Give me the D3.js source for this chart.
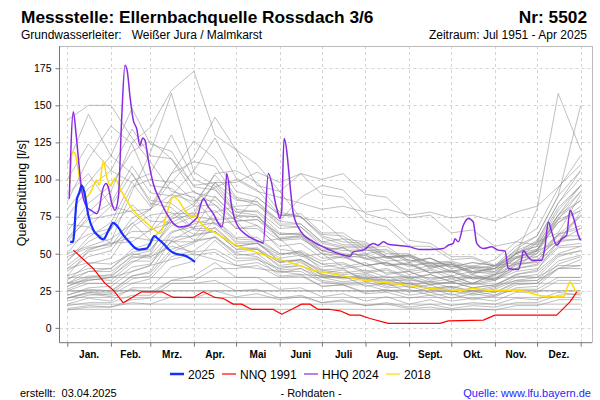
<!DOCTYPE html>
<html><head><meta charset="utf-8">
<script src="https://cdn.jsdelivr.net/npm/d3@7"></script>
<style>
html,body{margin:0;padding:0;background:#fff;}
text{font-family:"Liberation Sans",Arial,sans-serif;}
</style></head>
<body><svg id="c" width="600" height="400"></svg>
<script>
// ---------- data ----------
const monthStarts = [0,31,59,90,120,151,181,212,243,273,304,334,365];
const monthLabels = ["Jan.","Feb.","Mrz.","Apr.","Mai","Juni","Juli","Aug.","Sept.","Okt.","Nov.","Dez."];
const yTicks = [0,25,50,75,100,125,150,175];

const greyDays = [0,15,31,46,59,74,90,105,120,135,151,166,181,196,212,227,243,258,273,288,304,319,334,349,365];
const greySeries = [
 [140,150,150,128,112,92,88,70,72,58,60,48,50,41,44,36,38,32,35,30,36,40,52,58,78],
 [35,52,58,92,118,158,105,96,78,76,60,62,50,49,42,44,36,39,33,36,32,38,40,54,55],
 [25,25,25,25,25,25,25,25,25,25,25,25,25,25,25,25,25,25,25,25,25,25,25,25,25],
 [25,25,25,25,25,25,25,25,25,25,25,25,25,25,25,25,25,25,25,25,25,25,25,25,25],
 [16,16,16,16,16,16,16,16,16,16,16,16,16,16,16,16,16,16,16,16,16,16,16,16,16],
 [30,30,30,30,30,30,30,30,30,30,30,30,30,30,30,30,30,30,30,30,30,30,30,30,30],
 [34,34,34,34,34,34,34,34,34,34,34,34,34,34,34,34,34,34,34,34,34,34,34,34,34],
 [20.5,20.5,20.5,20.5,20.5,20.5,20.5,20.5,20.5,20.5,20.5,20.5,20.5,20.5,20.5,20.5,20.5,20.5,20.5,20.5,20.5,20.5,20.5,20.5,20.5],
 [12.5,12.5,12.5,12.5,12.5,12.5,12.5,12.5,12.5,12.5,12.5,12.5,12.5,12.5,12.5,12.5,12.5,12.5,12.5,12.5,12.5,12.5,12.5,12.5,12.5],
 [60,78,92,125,135,160,173,130,120,96,92,74,72,60,58,48,49,40,43,36,42,44,58,64,90],
 [45,58,66,95,100,98,115,142,120,110,92,104,100,104,90,88,74,76,64,66,55,58,56,76,86],
 [28,33,32,44,50,74,76,98,80,78,64,63,52,49,47,42,43,37,38,33,35,43,45,62,62],
 [20,24,22,30,33,48,52,62,50,48,38,38,31,29,29,25,26,22,23,19,22,26,26,34,34],
 [15,17,17,22,22,32,35,44,34,34,26,27,21,23,18,21,16,19,15,17,16,20,19,24,22],
 [50,68,82,104,86,84,72,70,60,59,50,50,43,44,38,40,34,36,31,35,33,45,52,74,86],
 [100,124,106,98,82,104,126,114,92,88,76,75,62,58,57,50,50,43,44,37,40,43,44,58,60],
 [75,94,106,134,116,114,96,98,86,85,72,70,58,60,50,52,44,47,41,44,42,51,55,79,96],
 [22,27,28,38,42,64,70,74,58,58,45,45,35,33,34,29,30,26,27,23,26,32,34,48,52],
 [32,43,47,68,76,78,66,65,53,53,42,44,36,34,35,30,31,27,28,25,28,32,32,40,40],
 [12,14,14,19,20,30,30,32,25,26,20,22,17,18,15,16,13,14,12,13,12,15,15,19,19],
 [42,53,57,58,66,88,92,83,67,67,55,57,47,48,42,44,38,40,35,38,36,47,53,76,92],
 [85,114,136,124,96,94,82,83,72,73,63,64,55,52,53,47,49,44,45,41,46,58,67,94,116],
 [55,63,67,83,72,71,59,61,51,53,44,46,39,37,39,34,35,31,33,29,32,40,42,55,57],
 [18,22,23,33,35,51,57,68,55,53,41,42,34,35,28,30,24,27,22,25,22,29,30,43,48],
 [38,48,52,71,59,59,49,51,42,44,37,40,34,31,33,28,30,26,28,24,27,34,36,49,52],
 [65,84,96,119,126,114,91,88,75,75,63,63,53,54,47,48,42,44,38,41,40,53,62,89,106],
 [25,30,30,41,43,58,62,78,82,83,69,68,55,50,49,43,43,37,38,33,33,40,43,58,67],
 [110,144,116,104,84,81,67,67,55,57,47,49,41,43,37,39,33,36,31,34,32,43,50,73,92],
 [30,38,40,53,57,75,84,103,87,83,72,88,96,93,77,73,59,57,48,48,42,48,50,63,67],
 [48,54,56,65,65,77,77,79,67,69,59,60,52,49,50,45,46,41,43,38,40,47,48,59,60],
 [20,23,21,26,24,32,32,40,40,42,34,35,28,29,24,26,22,24,20,23,21,27,28,40,46],
 [70,68,57,61,59,73,82,104,106,98,78,75,61,56,56,48,48,41,42,37,38,50,59,84,101],
 [35,40,40,51,53,69,75,73,61,61,50,51,43,40,42,37,38,33,35,30,33,42,45,63,75],
 [16,20,18,27,27,41,45,59,47,47,35,36,28,29,23,24,20,22,18,20,18,24,24,32,32],
 [58,75,84,109,91,89,106,128,101,93,76,75,63,62,52,53,45,47,41,44,42,55,62,89,150],
 [26,32,34,47,49,65,68,71,57,57,45,46,37,39,33,35,29,31,27,30,28,36,39,58,76],
 [40,44,43,50,48,55,51,53,45,46,40,42,36,34,36,31,33,29,31,27,29,35,34,42,42],
 [90,104,82,78,66,71,63,65,55,57,49,52,45,48,42,44,39,42,37,40,37,47,52,71,82],
 [22,26,25,35,37,53,58,61,49,50,39,40,32,30,31,27,28,24,25,22,24,30,30,40,42],
 [45,61,71,99,104,130,100,94,76,75,61,62,52,54,46,48,41,44,38,41,38,48,52,76,96],
 [13,15,14,17,16,21,20,25,21,23,19,21,17,19,15,17,14,16,13,15,14,17,17,22,23],
 [80,98,116,148,124,119,95,93,78,79,67,68,57,54,54,47,48,42,43,38,40,50,55,73,79],
 [33,38,38,48,47,61,62,65,53,54,44,46,38,36,37,32,34,29,31,27,29,36,38,50,55],
 [60,73,76,79,80,99,86,86,72,73,60,61,50,47,49,42,44,37,39,34,36,44,48,63,69],
 [28,34,36,49,52,71,78,98,98,105,98,104,90,88,72,68,55,55,46,47,41,50,53,71,79],
 [20,24,24,35,38,59,67,89,74,69,53,51,39,40,31,33,27,29,24,27,24,31,32,45,49],
 [40,51,55,74,80,104,112,109,88,85,70,70,58,55,55,48,49,43,44,40,42,52,58,84,106],
 [30,35,35,45,45,58,58,73,74,88,76,77,64,64,54,55,45,47,40,42,40,50,57,81,96],
 [50,55,60,70,80,90,85,95,100,92,88,84,80,82,78,80,76,78,74,76,72,78,82,95,110],
 [30,32,34,38,42,46,50,46,42,40,38,36,35,34,33,32,32,31,30,30,36,50,80,158,120]
];

// 2025
const days2025 = [2,4,6.7,8.5,10.2,12,14.9,18.5,22,25.6,29,32.7,36,39.8,44,48,50.5,53,56.4,59,61.8,65,68.2,72,75.4,79,82.5,87,90.8];
const vals2025 = [58,58,86,91,96,92,76,66,62,59.6,65,70.8,68,62.5,58,54,52.8,53,53.5,57,61.8,59.5,56.9,53,50.6,49.5,49,47,44.5];

// NNQ 1991
const daysNNQ = [4.3,18.5,26.8,32.7,39.8,52.9,67.1,75.4,89.6,96.7,105,110.9,118,124,131.1,146.5,152.4,160.7,166.6,172.5,178.4,186.8,193.9,201,208.1,215.2,228.2,265,270.9,295.8,304.1,329,347.9,352.6,357.4,362.2];
const valsNNQ = [52.4,40,30,25.4,16.9,24.3,24.3,20.5,20.5,24.3,20.5,19.8,16,16,12.4,12.4,9.2,13,16,16,12.4,12.4,11.5,8.6,8.6,6.3,3,3,4.7,5.2,8.6,8.6,8.6,13,17.5,24.3];

// HHQ 2024
const daysHHQ = [1.4,4.3,6.2,7.8,10.2,13.8,17.3,20.9,23.2,24.5,27.5,29.1,31.6,33.9,36.3,38.7,41,42.7,44.6,46.9,49.3,51.7,53.6,55.2,57.6,61.1,65.9,70.7,75.4,80.1,86,90.8,92,96.7,100.2,103.8,107.4,109.8,112.1,113.3,116.9,120.4,127.5,137,139.3,142.9,148.9,151.2,152.4,154.1,160.7,165.4,174.9,184.4,186.8,193.9,201,203.3,210.4,217.5,221.1,224.7,228.2,234.2,243.6,250.7,257.8,267.3,270.9,274.4,275.6,278,281.5,285.1,288.6,291.1,295.8,301.7,306.4,311.2,313.5,320.6,323.1,324.2,327.7,330.2,337.3,339.6,342,344.4,347.9,351.5,355,357.4,359.7,363.3,365];
const valsHHQ = [87,145.6,131,115,93,81.5,79,77,82.7,90.6,97.3,95,84,79.3,88,142,177,172.6,155.7,140,134.4,123,128,126.5,113,97.3,86,77,70.4,68,69,73,74,87,81.6,77,70.4,68,84,104,81.6,70,62.5,58,57,104,80.5,73.7,79,127.7,77,65.9,58,53.5,52.4,49.7,48.3,51.2,52.4,56.9,55.7,58,56.4,55.7,54.6,52.8,52.8,53.5,55.7,56.9,60,58,69,73.7,71.4,56.9,53.5,54.6,52.4,51.9,40,39.4,46.8,51.9,47.8,45.6,45.6,54.6,71.4,64.7,55.7,60,62.5,79.3,74.8,62.5,59];

// 2018
const days2018 = [1.9,3.8,5.5,7.8,10.2,13.8,17.3,20.9,22.7,25.6,28,30.4,33.9,37.5,42.2,46.9,54,61.1,65.9,70.7,75.4,77.8,83.7,88.4,92,94.3,106.2,120.4,137,160.7,174.9,186.8,193.9,210.4,229.4,257.8,281.5,288.6,298.2,320.6,338.4,352.6,357.4,362.2,364.5];
const vals2018 = [97.3,118.6,117.6,106.3,92.8,88.3,92.8,99.6,96.2,112.4,101.8,96.2,100.7,94,86,79.3,72.6,67,63.6,77,88.3,87.2,79.3,74.8,76,71.4,63.6,55.7,50.1,43.4,38.9,36.7,35.5,32.2,30.3,26.6,25.4,26.6,25.4,25.4,21.4,20.9,31,24.3,24.3];

const legendItems = ["2025","NNQ 1991","HHQ 2024","2018"];
const legendColors = ["#1530ff","#ff0000","#8a2be2","#ffdd00"];

// ---------- chart ----------
const svg = d3.select("#c");
const L = 59.5, R = 592, T = 46, B = 342.7;
const x = d3.scaleLinear().domain([0,365]).range([67.3,580.7]);
const y = d3.scaleLinear().domain([-10,190]).range([B,T]);

svg.append("defs").append("clipPath").attr("id","clip")
  .append("rect").attr("x",L).attr("y",T).attr("width",R-L).attr("height",B-T);

// grid
const grid = svg.append("g").attr("stroke","#d4d4d4").attr("stroke-dasharray","3,3").attr("stroke-width",1);
yTicks.forEach(v=>grid.append("line").attr("x1",L).attr("x2",R).attr("y1",Math.round(y(v))+0.5).attr("y2",Math.round(y(v))+0.5));
monthStarts.forEach(d=>grid.append("line").attr("y1",T).attr("y2",B).attr("x1",Math.round(x(d))+0.5).attr("x2",Math.round(x(d))+0.5));

// frame top/right
svg.append("line").attr("x1",L).attr("x2",R).attr("y1",T+0.5).attr("y2",T+0.5).attr("stroke","#bbb");
svg.append("line").attr("x1",R+0.5).attr("x2",R+0.5).attr("y1",T).attr("y2",B).attr("stroke","#bbb");

const plot = svg.append("g").attr("clip-path","url(#clip)");
const lineG = d3.line().x(d=>x(d[0])).y(d=>y(d[1]));
greySeries.forEach(s=>{
  plot.append("path").datum(greyDays.map((d,i)=>[d,s[i]]))
    .attr("d",lineG).attr("fill","none").attr("stroke","#8c8c8c").attr("stroke-opacity",0.55).attr("stroke-width",1);
});
const lineS = d3.line().x(d=>x(d[0])).y(d=>y(d[1])).curve(d3.curveMonotoneX);
function drawCol(days, vals, color, w, curve){
  plot.append("path").datum(days.map((d,i)=>[d,vals[i]]))
    .attr("d", curve ? lineS : lineG).attr("fill","none").attr("stroke",color).attr("stroke-width",w)
    .attr("stroke-linejoin","round");
}
drawCol(days2018, vals2018, legendColors[3], 1.5, true);
drawCol(daysHHQ, valsHHQ, legendColors[2], 1.5, true);
drawCol(daysNNQ, valsNNQ, legendColors[1], 1.2, false);
drawCol(days2025, vals2025, legendColors[0], 2.2, true);

// axes
const yAxis = d3.axisLeft(y).tickValues(yTicks).tickSize(4).tickPadding(4);
const ya = svg.append("g").attr("transform",`translate(${L},0)`).call(yAxis);
ya.select(".domain").attr("stroke","#777");
ya.selectAll(".tick line").attr("stroke","#777");
ya.selectAll("text").attr("font-size","10.5px").attr("fill","#000").attr("font-family","Liberation Sans, Arial, sans-serif");
ya.select(".domain").attr("d",`M-0,${T}V${B}`);

const xAxis = d3.axisBottom(x).tickValues(monthStarts).tickSize(4).tickFormat("");
const xa = svg.append("g").attr("transform",`translate(0,${B})`).call(xAxis);
xa.select(".domain").attr("d",`M${L},0H${R}`).attr("stroke","#777");
xa.selectAll(".tick line").attr("stroke","#777");
const labG = svg.append("g");
monthLabels.forEach((m,i)=>{
  labG.append("text").attr("x",x((monthStarts[i]+monthStarts[i+1])/2)).attr("y",357.5)
    .attr("text-anchor","middle").attr("font-size","10px").attr("font-weight","bold").text(m);
});

// y title
svg.append("text").attr("transform","translate(26,193) rotate(-90)").attr("text-anchor","middle")
  .attr("font-size","12.5px").text("Quellschüttung [l/s]");

// titles
svg.append("text").attr("x",21).attr("y",23).attr("font-size","17.3px").attr("font-weight","bold").text("Messstelle: Ellernbachquelle Rossdach 3/6");
svg.append("text").attr("x",587).attr("y",23).attr("text-anchor","end").attr("font-size","17.3px").attr("font-weight","bold").text("Nr: 5502");
svg.append("text").attr("x",21).attr("y",38.5).attr("font-size","12px").attr("xml:space","preserve").text("Grundwasserleiter:   Weißer Jura / Malmkarst");
svg.append("text").attr("x",587).attr("y",38.5).attr("text-anchor","end").attr("font-size","12px").text("Zeitraum: Jul 1951 - Apr 2025");

// legend
const legX = [170,222,304,386];
legendItems.forEach((t,i)=>{
  svg.append("line").attr("x1",legX[i]).attr("x2",legX[i]+14).attr("y1",374).attr("y2",374)
    .attr("stroke",legendColors[i]).attr("stroke-width", i===0?2.5:1.2);
  svg.append("text").attr("x",legX[i]+18).attr("y",378.5).attr("font-size","12px").text(t);
});

// footer
svg.append("text").attr("x",20).attr("y",397).attr("font-size","11px").attr("xml:space","preserve").text("erstellt:  03.04.2025");
svg.append("text").attr("x",311).attr("y",397).attr("text-anchor","middle").attr("font-size","11px").text("- Rohdaten -");
svg.append("text").attr("x",591).attr("y",397).attr("text-anchor","end").attr("font-size","11px").attr("fill","#1f1fff").text("Quelle: www.lfu.bayern.de");
</script></body></html>
